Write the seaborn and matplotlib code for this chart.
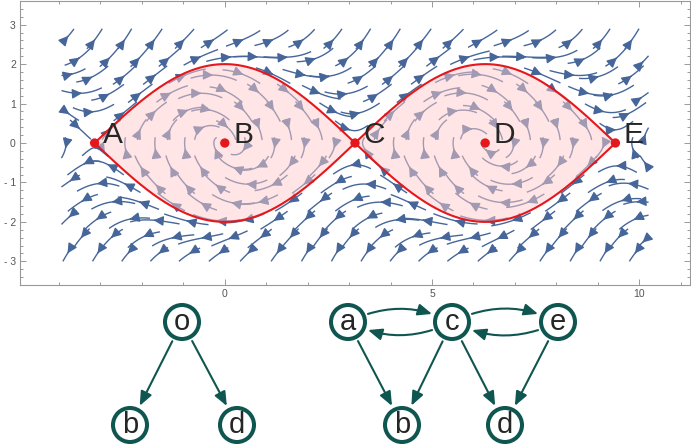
import numpy as np
import pandas as pd
import seaborn as sns
import matplotlib.pyplot as plt
from matplotlib.patches import Circle, FancyArrowPatch
from matplotlib.ticker import MultipleLocator

sns.set_style('ticks')
plt.rcParams['font.family'] = ['Liberation Sans', 'DejaVu Sans']

# equilibria of the pendulum and their labels
point_names = ['A', 'B', 'C', 'D', 'E']
point_x = [-np.pi, 0.0, np.pi, 2 * np.pi, 3 * np.pi]
point_y = [0.0, 0.0, 0.0, 0.0, 0.0]

# field: x' = y, y' = -sin x + k*y*(E-1), E = y^2/2 - cos x
energy_gain = 0.4
stream_x = (-np.pi - 0.8, 3 * np.pi + 0.8)
stream_y = (-3.0, 3.0)

xtick_vals = [0, 5, 10]
ytick_vals = [-3, -2, -1, 0, 1, 2, 3]
ytick_text = ['- 3', '- 2', '- 1', '0', '1', '2', '3']

# graphs under the plot
left_nodes = {'o': (182, 322), 'b': (130, 425), 'd': (237, 425)}
left_edges = [('o', 'b', 0.0), ('o', 'd', 0.0)]
right_nodes = {'a': (348, 322), 'c': (452, 322), 'e': (558, 322),
               'b': (402, 425), 'd': (505, 425)}
right_edges = [('a', 'c', -0.25), ('c', 'a', -0.25), ('c', 'e', -0.25), ('e', 'c', -0.25),
               ('a', 'b', 0.0), ('c', 'b', 0.0), ('c', 'd', 0.0), ('e', 'd', 0.0)]

blue = '#46669a'
red = '#e4181c'
teal = '#0f5650'

fig = plt.figure(figsize=(6.91, 4.44), dpi=100)
ax = fig.add_axes([20 / 691, 1 - 285 / 444, 670 / 691, 284 / 444])

gx = np.linspace(stream_x[0], stream_x[1], 300)
gy = np.linspace(stream_y[0], stream_y[1], 150)
X, Y = np.meshgrid(gx, gy)
U = Y
V = -np.sin(X) + energy_gain * Y * (Y ** 2 / 2 - np.cos(X) - 1)

# staggered seeds, one short stream per seed
seeds = []
for i, sy0 in enumerate(np.arange(stream_y[0] + 0.12, stream_y[1], 0.46)):
    shift = 0.36 * (i % 2)
    for sx0 in np.arange(stream_x[0] + 0.1 + shift, stream_x[1], 0.72):
        seeds.append((sx0, sy0))
seeds = np.array(seeds)
ax.streamplot(X, Y, U, V, start_points=seeds, broken_streamlines=False, density=6,
              color=blue, linewidth=1.0, arrowsize=1.45, maxlength=0.095,
              minlength=0.005, zorder=1)

# separatrix and the pink eyes
sx = np.linspace(point_x[0], point_x[-1], 600)
sy = 2 * np.abs(np.cos(sx / 2))
ax.fill_between(sx, -sy, sy, color=(1.0, 0.8, 0.8), alpha=0.5, lw=0, zorder=2)
sns.lineplot(x=sx, y=sy, color=red, lw=1.5, ax=ax, zorder=3)
sns.lineplot(x=sx, y=-sy, color=red, lw=1.5, ax=ax, zorder=3)

pts = pd.DataFrame({'name': point_names, 'x': point_x, 'y': point_y})
sns.scatterplot(data=pts, x='x', y='y', color=red, s=45, edgecolor='none', ax=ax, zorder=4)
for _, r in pts.iterrows():
    ax.text(r['x'] + 0.2, r['y'] + 0.01, r['name'], fontsize=21.5, va='baseline', ha='left', zorder=5)

ax.set_xlim(-np.pi - 1.8, 3 * np.pi + 1.8)
ax.set_ylim(-3.6, 3.6)
ax.set_xticks(xtick_vals)
ax.set_yticks(ytick_vals)
ax.set_yticklabels(ytick_text)
ax.xaxis.set_minor_locator(MultipleLocator(1))
ax.yaxis.set_minor_locator(MultipleLocator(0.2))
ax.tick_params(which='both', direction='in', top=True, right=True, colors='#999999',
               labelcolor='#555555', labelsize=7.5, width=0.7, pad=3)
ax.tick_params(which='major', length=4)
ax.tick_params(which='minor', length=2)
ax.set_xlabel('')
ax.set_ylabel('')
for sp in ax.spines.values():
    sp.set_color('#999999')
    sp.set_linewidth(0.8)

# node-link diagrams, drawn in pixel coordinates
g = fig.add_axes([0, 0, 1, 1])
g.set_xlim(0, 691)
g.set_ylim(444, 0)
g.axis('off')
g.patch.set_alpha(0)

for nodes, edges in [(left_nodes, left_edges), (right_nodes, right_edges)]:
    for a, b, rad in edges:
        arr = FancyArrowPatch(nodes[a], nodes[b], arrowstyle='-|>,head_length=0.6,head_width=0.25',
                              mutation_scale=14, shrinkA=15.5, shrinkB=15.5, color=teal, lw=1.5,
                              connectionstyle='arc3,rad={}'.format(rad))
        g.add_patch(arr)
    for name, (x, y) in nodes.items():
        g.add_patch(Circle((x, y), 17, facecolor='white', edgecolor=teal, lw=2.9))
        g.text(x, y, name, ha='center', va='center', fontsize=21)

fig.savefig('out.png', dpi=100)
